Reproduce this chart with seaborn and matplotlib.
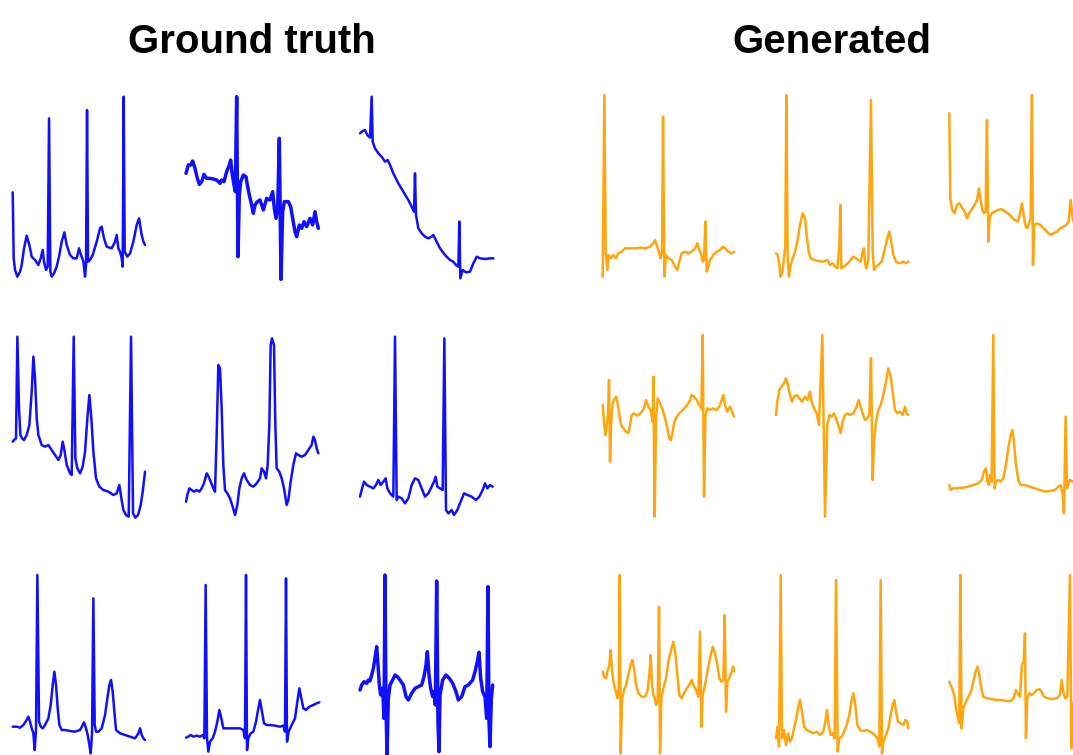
import numpy as np
import pandas as pd
import matplotlib
matplotlib.use("Agg")
import matplotlib.pyplot as plt
import seaborn as sns

# ---------------- data: ECG traces (sample index, amplitude in arbitrary units) -------------
titles = ["Ground truth", "Generated"]

# Ground truth, row 1
gt_r1c1_t = [38,41,45,52,60,65,72,80,88,95,105,115,122,128,132,138,143,147,151,155,162,170,178,185,193,200,210,220,230,237,243,250,255,258,261,264,270,278,290,300,305,312,320,335,345,350,355,360,365,368,371,374,382,390,400,410,417,425,430,435]
gt_r1c1_v = [278,80,45,25,40,60,110,148,120,85,75,60,80,105,70,45,55,500,40,25,35,55,90,130,158,120,90,80,80,110,90,70,25,60,525,70,75,90,130,170,175,140,115,110,130,150,110,100,80,55,565,100,85,95,130,180,200,150,130,120]
gt_r1c2_t = [558,565,572,578,585,592,598,605,612,620,630,640,650,660,665,672,680,688,692,697,702,706,710,714,718,722,730,738,742,748,755,760,765,772,780,790,800,810,818,823,828,833,838,843,848,853,865,872,878,885,890,898,905,912,920,930,938,945,950,955]
gt_r1c2_v = [335,360,360,372,350,320,302,310,332,320,320,318,315,305,315,310,340,360,375,330,300,280,565,85,270,310,330,325,300,270,240,215,240,250,255,225,260,255,280,230,200,230,440,17,220,250,250,235,200,160,145,180,170,190,175,200,180,220,190,170]
gt_r1c3_t = [1080,1088,1095,1102,1110,1115,1118,1125,1135,1145,1155,1163,1170,1180,1195,1210,1225,1235,1242,1245,1248,1255,1265,1275,1285,1295,1300,1310,1320,1335,1350,1360,1368,1375,1378,1381,1388,1398,1410,1420,1430,1440,1455,1470,1480]
gt_r1c3_v = [455,462,465,450,442,565,430,410,395,385,370,375,360,335,305,280,255,235,220,335,210,170,155,145,140,145,150,130,110,90,75,70,60,55,190,20,45,38,40,65,85,80,78,80,80]

# Ground truth, row 2
gt_r2c1_t = [38,42,48,52,57,61,66,72,80,88,95,100,105,110,115,125,135,145,155,165,175,182,188,193,200,210,215,221,226,232,240,248,255,262,268,274,280,288,298,310,325,340,350,358,364,370,378,386,393,399,406,414,422,428,435]
gt_r2c1_v = [250,255,260,565,350,270,260,255,270,300,400,505,440,320,270,240,235,240,225,210,195,210,250,225,180,155,150,565,200,170,155,175,220,320,390,320,220,140,115,105,100,90,95,120,80,45,30,25,565,35,22,30,60,100,160]
gt_r2c2_t = [558,562,568,575,582,590,598,605,612,620,626,632,640,645,650,655,660,665,670,675,682,690,698,705,712,718,725,732,740,750,760,770,780,785,792,798,803,808,812,816,822,826,830,838,845,852,860,865,872,880,888,895,905,915,925,935,940,945,950,955]
gt_r2c2_v = [70,90,110,105,100,105,100,110,125,155,145,130,110,100,270,480,470,350,180,105,95,80,55,30,60,110,140,155,135,120,115,125,140,170,160,140,180,300,540,560,540,300,170,160,140,110,60,75,130,180,215,210,205,210,225,240,265,255,230,215]
gt_r2c3_t = [1080,1085,1092,1100,1110,1120,1128,1135,1142,1150,1157,1162,1170,1180,1185,1190,1195,1205,1215,1225,1235,1245,1255,1265,1275,1285,1295,1302,1307,1312,1320,1328,1333,1338,1345,1355,1362,1372,1382,1392,1402,1415,1428,1438,1448,1455,1462,1470,1478]
gt_r2c3_v = [85,105,130,120,115,110,120,135,120,130,140,110,95,85,565,75,85,80,65,80,120,140,135,110,85,95,115,130,145,115,110,105,560,45,35,45,30,45,70,95,90,85,75,85,105,125,110,120,115]

# Ground truth, row 3
gt_r3c1_t = [38,50,60,70,80,85,90,95,100,104,108,112,117,122,128,135,145,152,158,163,168,173,178,185,195,210,225,240,248,252,258,263,268,272,276,280,284,288,295,305,315,322,328,333,338,343,348,360,375,390,405,415,420,425,430,435]
gt_r3c1_v = [115,115,112,120,135,145,130,110,95,45,110,570,130,115,110,120,140,180,240,280,240,170,120,105,105,102,100,105,120,128,110,90,60,35,95,500,120,100,100,110,150,200,240,255,220,160,105,95,90,85,80,95,110,90,80,75]
gt_r3c2_t = [558,565,572,580,590,600,608,613,617,621,625,630,638,645,652,658,664,670,678,690,705,720,730,735,738,741,745,752,760,768,775,780,786,792,800,810,825,840,850,855,858,861,866,875,885,892,898,904,910,918,928,940,950,958]
gt_r3c2_v = [82,85,90,85,88,85,90,80,540,80,40,70,80,100,130,165,140,110,110,110,110,110,105,80,570,45,80,95,100,130,170,195,160,125,120,120,118,115,118,100,560,70,100,120,140,190,230,200,170,165,175,180,185,188]
gt_r3c3_t = [1080,1085,1092,1100,1105,1110,1115,1120,1125,1130,1134,1138,1142,1148,1152,1155,1158,1161,1165,1170,1178,1185,1192,1200,1210,1218,1225,1235,1245,1255,1265,1272,1278,1282,1287,1292,1298,1302,1306,1310,1314,1317,1320,1328,1338,1348,1358,1368,1375,1385,1395,1405,1418,1425,1432,1437,1442,1448,1455,1460,1464,1467,1470,1474,1478]
gt_r3c3_v = [225,240,250,245,255,252,270,290,320,355,300,240,210,230,140,570,180,30,200,240,255,270,265,255,240,205,195,215,230,235,240,265,300,340,270,230,205,220,180,552,125,40,210,255,270,260,245,220,195,205,235,240,255,280,310,338,260,220,205,140,535,130,55,200,240]

# Generated, row 1
gen_r1c1_t = [38,43,47,52,56,62,70,78,85,95,105,120,135,150,165,180,190,195,200,206,212,216,219,223,228,235,245,255,262,268,275,285,295,305,315,322,328,333,338,342,346,350,355,360,370,380,390,398,405,415,425,432]
gen_r1c1_v = [25,570,100,45,90,80,90,80,95,100,110,110,110,112,110,115,125,135,120,100,80,100,505,25,90,80,75,55,45,70,95,100,95,100,110,125,105,95,70,75,190,40,55,75,90,100,105,115,110,100,95,100]
gen_r1c2_t = [558,563,568,572,577,582,586,589,593,597,602,608,615,622,630,638,645,650,656,662,672,685,700,712,720,728,735,742,748,751,754,760,768,778,790,798,805,812,818,822,826,830,835,843,848,852,858,865,875,885,892,898,904,910,918,928,940,948,955]
gen_r1c2_v = [95,90,60,25,40,80,120,570,80,25,60,80,100,130,180,215,200,150,100,80,75,72,70,75,60,65,55,50,120,240,50,55,60,70,85,80,75,70,100,110,60,50,80,555,100,45,55,60,70,110,140,160,130,90,70,65,70,65,70]
gen_r1c3_t = [1079,1082,1088,1095,1102,1110,1118,1125,1132,1138,1145,1155,1162,1168,1172,1178,1183,1188,1192,1196,1200,1206,1215,1225,1235,1245,1255,1265,1275,1285,1292,1297,1302,1307,1312,1318,1323,1327,1330,1334,1342,1352,1362,1372,1382,1392,1402,1412,1422,1430,1437,1443,1449,1455,1462,1470,1476]
gen_r1c3_v = [515,260,225,215,240,245,230,220,200,215,225,240,255,290,260,225,215,220,495,130,200,215,220,225,228,222,215,205,195,190,220,245,210,180,170,185,200,570,60,180,185,180,170,160,150,155,160,170,175,180,190,255,200,180,170,175,180]

# Generated, row 2
gen_r2c1_t = [38,42,46,50,54,57,60,63,67,72,78,82,88,93,100,108,115,120,125,132,140,148,155,162,168,175,182,188,190,194,198,203,210,218,225,232,238,243,248,253,260,268,278,288,298,305,312,320,328,334,338,342,346,352,360,368,378,388,395,400,405,412,420,428,432]
gen_r2c1_v = [360,310,270,300,330,435,190,300,360,375,385,370,330,300,290,280,275,300,330,335,328,332,340,350,375,355,345,310,445,25,320,380,365,345,320,290,260,255,280,310,325,335,345,355,370,390,385,375,360,350,570,85,325,350,345,350,345,355,375,390,360,340,355,335,325]
gen_r2c2_t = [558,562,568,575,582,588,594,600,606,612,620,628,636,645,652,660,665,672,680,687,697,705,712,718,725,732,738,745,752,758,765,772,780,790,800,806,812,818,825,832,838,843,848,852,858,865,872,880,888,895,902,908,915,922,930,938,945,950,955]
gen_r2c2_v = [330,370,405,415,425,440,420,390,370,385,390,380,370,385,375,400,370,350,335,300,570,25,300,330,325,335,320,300,275,310,330,335,330,335,355,375,355,335,315,320,330,500,135,250,310,345,360,390,430,470,445,400,345,335,340,330,355,335,330]
gen_r2c3_t = [1078,1082,1090,1100,1110,1120,1135,1150,1165,1175,1182,1188,1192,1197,1200,1205,1210,1214,1218,1225,1232,1240,1248,1255,1262,1267,1272,1278,1285,1292,1305,1320,1335,1350,1365,1380,1395,1405,1412,1418,1422,1427,1431,1440,1449,1455,1465,1476]
gen_r2c3_v = [120,105,110,110,112,112,115,120,125,135,160,170,130,120,150,130,570,110,130,135,130,140,180,230,270,285,250,180,135,120,120,115,110,105,100,102,105,115,120,95,35,325,110,135,130,125,120,118]

# Generated, row 3
gen_r3c1_t = [38,42,48,52,58,62,66,72,78,82,86,89,92,96,102,108,115,122,127,132,138,145,155,165,172,178,182,186,190,194,198,203,207,210,214,220,228,235,242,250,256,262,268,275,282,290,298,305,310,318,325,330,334,338,345,352,360,368,375,382,388,394,400,404,408,412,418,425,430,432]
gen_r3c1_v = [280,265,260,280,300,345,280,240,220,200,220,570,35,200,225,240,270,300,315,290,240,215,205,205,220,270,330,240,210,200,180,190,475,35,200,230,260,310,340,370,335,270,210,200,215,230,240,255,240,225,205,400,115,210,240,280,320,355,335,300,260,250,255,450,160,250,260,280,295,280]
gen_r3c2_t = [558,563,567,572,576,582,588,594,600,606,612,618,624,630,636,642,650,660,670,680,690,700,706,711,716,722,728,734,738,743,748,755,762,770,778,784,790,796,802,810,820,830,840,848,855,862,868,872,876,880,888,895,902,908,913,918,924,932,940,946,952,955]
gen_r3c2_v = [80,115,55,570,80,105,60,95,70,80,110,135,170,195,160,115,105,100,95,100,90,100,130,165,120,90,95,80,555,40,80,85,100,120,150,190,215,180,120,105,102,105,100,95,90,80,55,555,35,70,90,110,150,180,195,160,130,125,120,135,130,110]
gen_r3c3_t = [1078,1082,1088,1093,1098,1103,1108,1111,1115,1120,1128,1135,1143,1150,1157,1163,1168,1174,1180,1190,1205,1220,1235,1250,1262,1270,1278,1283,1290,1296,1301,1305,1308,1312,1318,1325,1332,1340,1348,1355,1362,1372,1385,1400,1410,1415,1420,1425,1432,1440,1444,1449,1455,1465,1476]
gen_r3c3_v = [250,240,225,210,170,145,125,570,110,170,190,205,220,250,280,295,270,230,205,200,198,195,195,192,192,200,225,215,205,300,310,395,80,200,215,210,215,225,228,220,205,200,198,200,210,255,220,200,205,570,50,180,200,205,202]

# ---------------- assemble ----------------
traces = {
    ("gt", 0, 0): (gt_r1c1_t, gt_r1c1_v), ("gt", 0, 1): (gt_r1c2_t, gt_r1c2_v), ("gt", 0, 2): (gt_r1c3_t, gt_r1c3_v),
    ("gt", 1, 0): (gt_r2c1_t, gt_r2c1_v), ("gt", 1, 1): (gt_r2c2_t, gt_r2c2_v), ("gt", 1, 2): (gt_r2c3_t, gt_r2c3_v),
    ("gt", 2, 0): (gt_r3c1_t, gt_r3c1_v), ("gt", 2, 1): (gt_r3c2_t, gt_r3c2_v), ("gt", 2, 2): (gt_r3c3_t, gt_r3c3_v),
    ("gen", 0, 0): (gen_r1c1_t, gen_r1c1_v), ("gen", 0, 1): (gen_r1c2_t, gen_r1c2_v), ("gen", 0, 2): (gen_r1c3_t, gen_r1c3_v),
    ("gen", 1, 0): (gen_r2c1_t, gen_r2c1_v), ("gen", 1, 1): (gen_r2c2_t, gen_r2c2_v), ("gen", 1, 2): (gen_r2c3_t, gen_r2c3_v),
    ("gen", 2, 0): (gen_r3c1_t, gen_r3c1_v), ("gen", 2, 1): (gen_r3c2_t, gen_r3c2_v), ("gen", 2, 2): (gen_r3c3_t, gen_r3c3_v),
}

sns.set_theme(style="white")
plt.rcParams["font.family"] = ["Liberation Sans", "DejaVu Sans"]

W, H = 1073, 755
fig = plt.figure(figsize=(W / 100, H / 100), dpi=100)
fig.patch.set_facecolor("white")

colors = {"gt": "#1010ff", "gen": "#ffa50f"}
col_left = {"gt": [12.7, 186.0, 360.0], "gen": [602.7, 776.0, 949.3]}
row_top = [85, 325, 565]
panel_w = 400 / 3.0
panel_h = 200.0
thick = {("gt", 0, 1), ("gt", 2, 2)}

for (grp, r, c), (t, v) in traces.items():
    t = np.asarray(t, dtype=float)
    df = pd.DataFrame({"t": t - t[0], "v": np.asarray(v, dtype=float)})
    left = col_left[grp][c]
    top = row_top[r]
    ax = fig.add_axes([left / W, 1 - (top + panel_h) / H, panel_w / W, panel_h / H])
    lw = 2.5 if (grp, r, c) in thick else 1.8
    sns.lineplot(data=df, x="t", y="v", ax=ax, color=colors[grp], linewidth=lw,
                 estimator=None, sort=False)
    ax.set_xlim(0, 400)
    ax.set_ylim(0, 600)
    ax.axis("off")
    for ln in ax.get_lines():
        ln.set_clip_on(False)
        ln.set_solid_joinstyle("round")

fig.text(252 / W, 1 - 53 / H, titles[0], ha="center", va="baseline",
         fontsize=29, fontweight="bold", color="black")
fig.text(832 / W, 1 - 53 / H, titles[1], ha="center", va="baseline",
         fontsize=29, fontweight="bold", color="black")

fig.savefig("out.png", dpi=100, facecolor="white")
